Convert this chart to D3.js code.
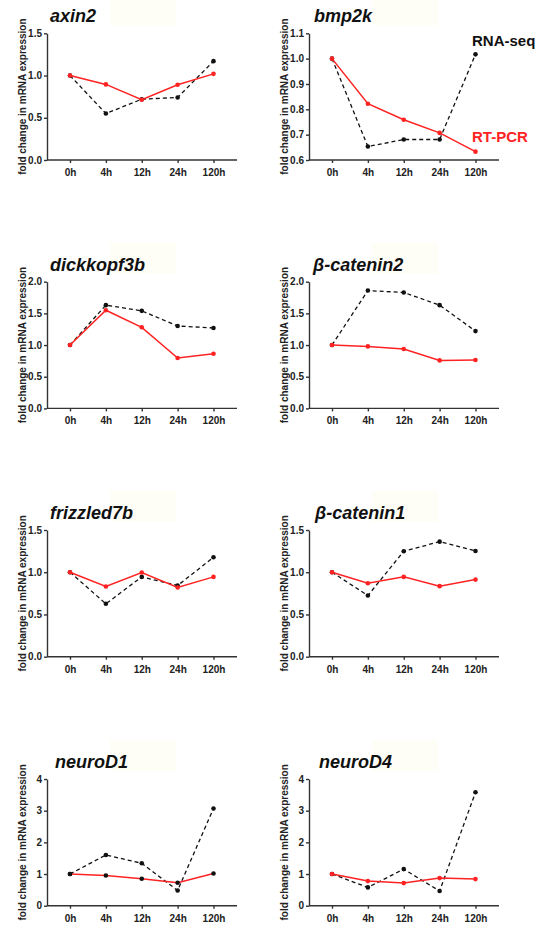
<!DOCTYPE html>
<html lang="en">
<head>
  <meta charset="UTF-8">
  <title>Fold change in mRNA expression</title>
  <style>
    body {
      margin: 0;
      padding: 0;
      background-color: #fff;
      font-family: "Liberation Sans", Arial, sans-serif;
    }

    .axis path, .axis line {
      stroke: #333;
      stroke-width: 1.4px;
    }

    .axis text {
      font-size: 10px;
      font-weight: bold;
      fill: #222;
      font-family: "Liberation Sans", Arial, sans-serif;
    }

    .title {
      font-size: 18px;
      font-weight: bold;
      font-style: italic;
      fill: #111;
    }

    .ylabel {
      font-size: 10px;
      font-weight: bold;
      fill: #222;
    }

    .rnaseq {
      fill: none;
      stroke: #111;
      stroke-width: 1.3px;
      stroke-dasharray: 4,3;
    }

    .rtpcr {
      fill: none;
      stroke: #ff2222;
      stroke-width: 1.5px;
    }

    .legend {
      font-size: 15px;
      font-weight: bold;
    }
  </style>
</head>
<body>
  <div id="chart"></div>

  <script src="https://d3js.org/d3.v7.min.js"></script>
  <script>
    const times = ["0h", "4h", "12h", "24h", "120h"];
    const genes = ["axin2", "bmp2k", "dickkopf3b", "β-catenin2", "frizzled7b", "β-catenin1", "neuroD1", "neuroD4"];

    // RNA-seq (black dashed)
    const rnaSeq = [
      [1.0, 0.55, 0.72, 0.74, 1.17],
      [1.0, 0.653, 0.681, 0.681, 1.017],
      [1.0, 1.63, 1.54, 1.30, 1.27],
      [1.0, 1.86, 1.83, 1.63, 1.22],
      [1.0, 0.626, 0.945, 0.843, 1.177],
      [1.0, 0.724, 1.248, 1.362, 1.252],
      [1.0, 1.60, 1.34, 0.48, 3.07],
      [1.0, 0.577, 1.155, 0.462, 3.58]
    ];

    // RT-PCR (red solid)
    const rtPcr = [
      [1.0, 0.895, 0.714, 0.89, 1.02],
      [1.0, 0.822, 0.759, 0.707, 0.633],
      [1.0, 1.55, 1.28, 0.795, 0.863],
      [1.0, 0.979, 0.937, 0.758, 0.763],
      [1.0, 0.831, 0.996, 0.819, 0.945],
      [1.0, 0.870, 0.945, 0.835, 0.913],
      [1.0, 0.955, 0.850, 0.724, 1.018],
      [1.0, 0.777, 0.714, 0.871, 0.840]
    ];

    const yTicks = [
      [0, 0.5, 1.0, 1.5],
      [0.6, 0.7, 0.8, 0.9, 1.0, 1.1],
      [0, 0.5, 1.0, 1.5, 2.0],
      [0, 0.5, 1.0, 1.5, 2.0],
      [0, 0.5, 1.0, 1.5],
      [0, 0.5, 1.0, 1.5],
      [0, 1, 2, 3, 4],
      [0, 1, 2, 3, 4]
    ];

    const yLabel = "fold change in mRNA expression";
    const legendLabels = ["RNA-seq", "RT-PCR"];

    // layout
    const W = 538, H = 925;
    const colAxisX = [47, 309];
    const rowTop = [33.3, 281.7, 530, 779];
    const plotH = 126.7;
    const axisLen = 190;
    const titleDx = [3, 5, 3, 4, 3, 6, 8, 10];
    const titleBgX = [110, 372];

    const svg = d3.select("#chart")
      .append("svg")
        .attr("width", W)
        .attr("height", H);

    genes.forEach((gene, i) => {
      const col = i % 2, row = Math.floor(i / 2);
      const x0 = colAxisX[col], top = rowTop[row], bottom = top + plotH;

      const g = svg.append("g");

      // faint patch behind the title
      g.append("rect")
        .attr("x", titleBgX[col])
        .attr("y", Math.max(0, top - 39))
        .attr("width", 66)
        .attr("height", top - 8 - Math.max(0, top - 39))
        .attr("fill", "#fefef7");

      const xScale = d3.scalePoint()
        .domain(times)
        .range([x0 + 23, x0 + 166.5]);

      const ticks = yTicks[i];
      const yScale = d3.scaleLinear()
        .domain([ticks[0], ticks[ticks.length - 1]])
        .range([bottom, top]);

      const allInt = ticks.every(t => Number.isInteger(t));
      const fmt = allInt ? d3.format("d") : d3.format(".1f");

      // y axis
      g.append("g")
        .attr("class", "axis")
        .attr("transform", `translate(${x0},0)`)
        .call(d3.axisLeft(yScale).tickValues(ticks).tickFormat(fmt).tickSize(3).tickSizeOuter(0).tickPadding(2));

      // x axis
      const xAxisG = g.append("g")
        .attr("class", "axis")
        .attr("transform", `translate(0,${bottom})`)
        .call(d3.axisBottom(xScale).tickSize(3).tickSizeOuter(0).tickPadding(6));
      xAxisG.select(".domain").attr("d", `M${x0},0H${x0 + axisLen}`);

      // y label
      g.append("text")
        .attr("class", "ylabel")
        .attr("text-anchor", "middle")
        .attr("transform", `translate(${x0 - 21.5},${(top + bottom) / 2}) rotate(-90)`)
        .text(yLabel);

      // title
      g.append("text")
        .attr("class", "title")
        .attr("x", x0 + titleDx[i])
        .attr("y", top - 11)
        .text(gene);

      const line = d3.line()
        .x((d, j) => xScale(times[j]))
        .y(d => yScale(d));

      // RNA-seq
      g.append("path")
        .datum(rnaSeq[i])
        .attr("class", "rnaseq")
        .attr("d", line);
      g.selectAll(".dot-seq")
        .data(rnaSeq[i])
        .enter().append("circle")
          .attr("class", "dot-seq")
          .attr("cx", (d, j) => xScale(times[j]))
          .attr("cy", d => yScale(d))
          .attr("r", 2.3)
          .attr("fill", "#111");

      // RT-PCR
      g.append("path")
        .datum(rtPcr[i])
        .attr("class", "rtpcr")
        .attr("d", line);
      g.selectAll(".dot-pcr")
        .data(rtPcr[i])
        .enter().append("circle")
          .attr("class", "dot-pcr")
          .attr("cx", (d, j) => xScale(times[j]))
          .attr("cy", d => yScale(d))
          .attr("r", 2.3)
          .attr("fill", gene === "neuroD1" ? "#111" : "#ff2222");
    });

    // legend
    svg.append("text")
      .attr("class", "legend")
      .attr("x", 472)
      .attr("y", 46)
      .attr("fill", "#111")
      .text(legendLabels[0]);

    svg.append("text")
      .attr("class", "legend")
      .attr("x", 472)
      .attr("y", 142)
      .attr("fill", "#ff2222")
      .text(legendLabels[1]);
  </script>
</body>
</html>
